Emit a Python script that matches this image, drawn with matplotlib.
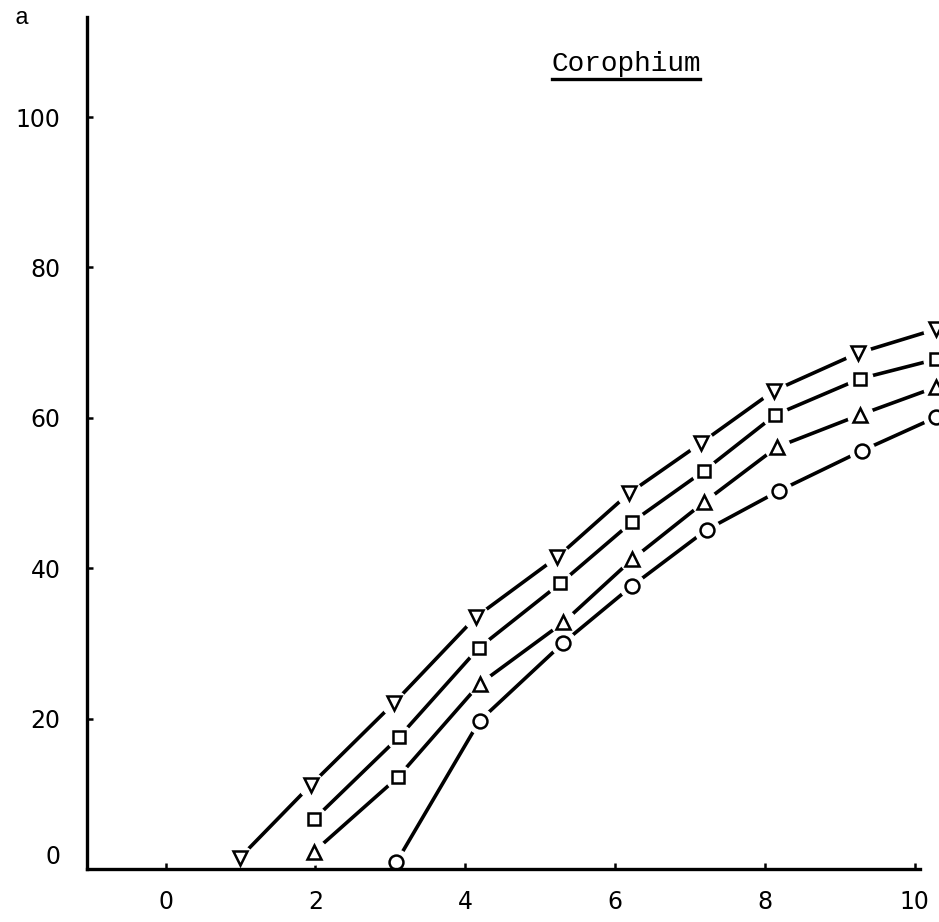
import matplotlib
matplotlib.use('Agg')
import matplotlib.pyplot as plt
from matplotlib.lines import Line2D
from matplotlib.transforms import ScaledTranslation

# ---- data ----
x_down = [0.99, 1.94, 3.05, 4.14, 5.23, 6.19, 7.14, 8.12, 9.24, 10.29]
y_down = [1.5, 11.2, 22.1, 33.5, 41.5, 50.0, 56.6, 63.6, 68.6, 71.8]

x_square = [1.98, 3.12, 4.18, 5.27, 6.22, 7.18, 8.14, 9.27, 10.29]
y_square = [6.6, 17.6, 29.4, 38.0, 46.1, 52.9, 60.4, 65.2, 67.8]

x_up = [1.98, 3.10, 4.19, 5.31, 6.23, 7.19, 8.16, 9.27, 10.29]
y_up = [2.3, 12.2, 24.6, 32.8, 41.2, 48.8, 56.1, 60.4, 64.1]
up_markers = ['^', 's', '^', '^', '^', '^', '^', '^', '^']

x_circle = [3.08, 4.19, 5.31, 6.22, 7.22, 8.19, 9.29, 10.29]
y_circle = [0.9, 19.7, 30.1, 37.6, 45.1, 50.3, 55.6, 60.1]

x_ticks = [0, 2, 4, 6, 8, 10]
y_ticks = [0, 20, 40, 60, 80, 100]
title = "Corophium"
panel = "a"

fig = plt.figure(figsize=(9.39, 9.22), dpi=100)
ax = fig.add_axes([87/939, 53/922, (920-87)/939, (869-17)/922])
ax.set_xlim(-1.05, 10.07)
ax.set_ylim(0, 113.3)

lw = 2.6
ms = 10
series = [
    (x_down, y_down, ['v'] * len(x_down)),
    (x_square, y_square, ['s'] * len(x_square)),
    (x_up, y_up, up_markers),
    (x_circle, y_circle, ['o'] * len(x_circle)),
]

for xs, ys, mk in series:
    ax.plot(xs, ys, color='black', lw=lw, clip_on=False, zorder=2,
            solid_capstyle='butt')
for xs, ys, mk in series:
    ax.plot(xs, ys, ls='none', marker='o', ms=18, mfc='white', mec='white',
            clip_on=False, zorder=3)
for xs, ys, mk in series:
    for xv, yv, m in zip(xs, ys, mk):
        size = ms if m != 's' else ms - 0.8
        ax.plot([xv], [yv], ls='none', marker=m, ms=size, mfc='white',
                mec='black', mew=1.8, clip_on=False, zorder=4)

for side in ['top', 'right']:
    ax.spines[side].set_visible(False)
for side in ['left', 'bottom']:
    ax.spines[side].set_linewidth(2.4)
    ax.spines[side].set_zorder(5)

ax.set_xticks(x_ticks)
ax.set_yticks(y_ticks)
ax.set_xticklabels([str(v) for v in x_ticks])
ax.set_yticklabels([str(v) for v in y_ticks])
ax.tick_params(axis='both', direction='in', length=4, width=1.8,
               labelsize=17, colors='black')
ax.tick_params(axis='y', pad=19)
ax.tick_params(axis='x', pad=15)

# shift "0" on y axis up slightly like in the reference
lab0 = ax.yaxis.get_major_ticks()[0].label1
lab0.set_transform(lab0.get_transform() + ScaledTranslation(0, 0.15, fig.dpi_scale_trans))

fig.text(626/939, 1 - 64/922, title, family='Liberation Mono', fontsize=20,
         ha='center', va='center')
fig.add_artist(Line2D([552/939, 700/939], [1 - 79/922, 1 - 79/922],
                      color='black', lw=2.4, transform=fig.transFigure))
fig.text(22/939, 1 - 18/922, panel, family='Liberation Mono', fontsize=17,
         ha='center', va='center')

fig.savefig('out.png', dpi=100)
